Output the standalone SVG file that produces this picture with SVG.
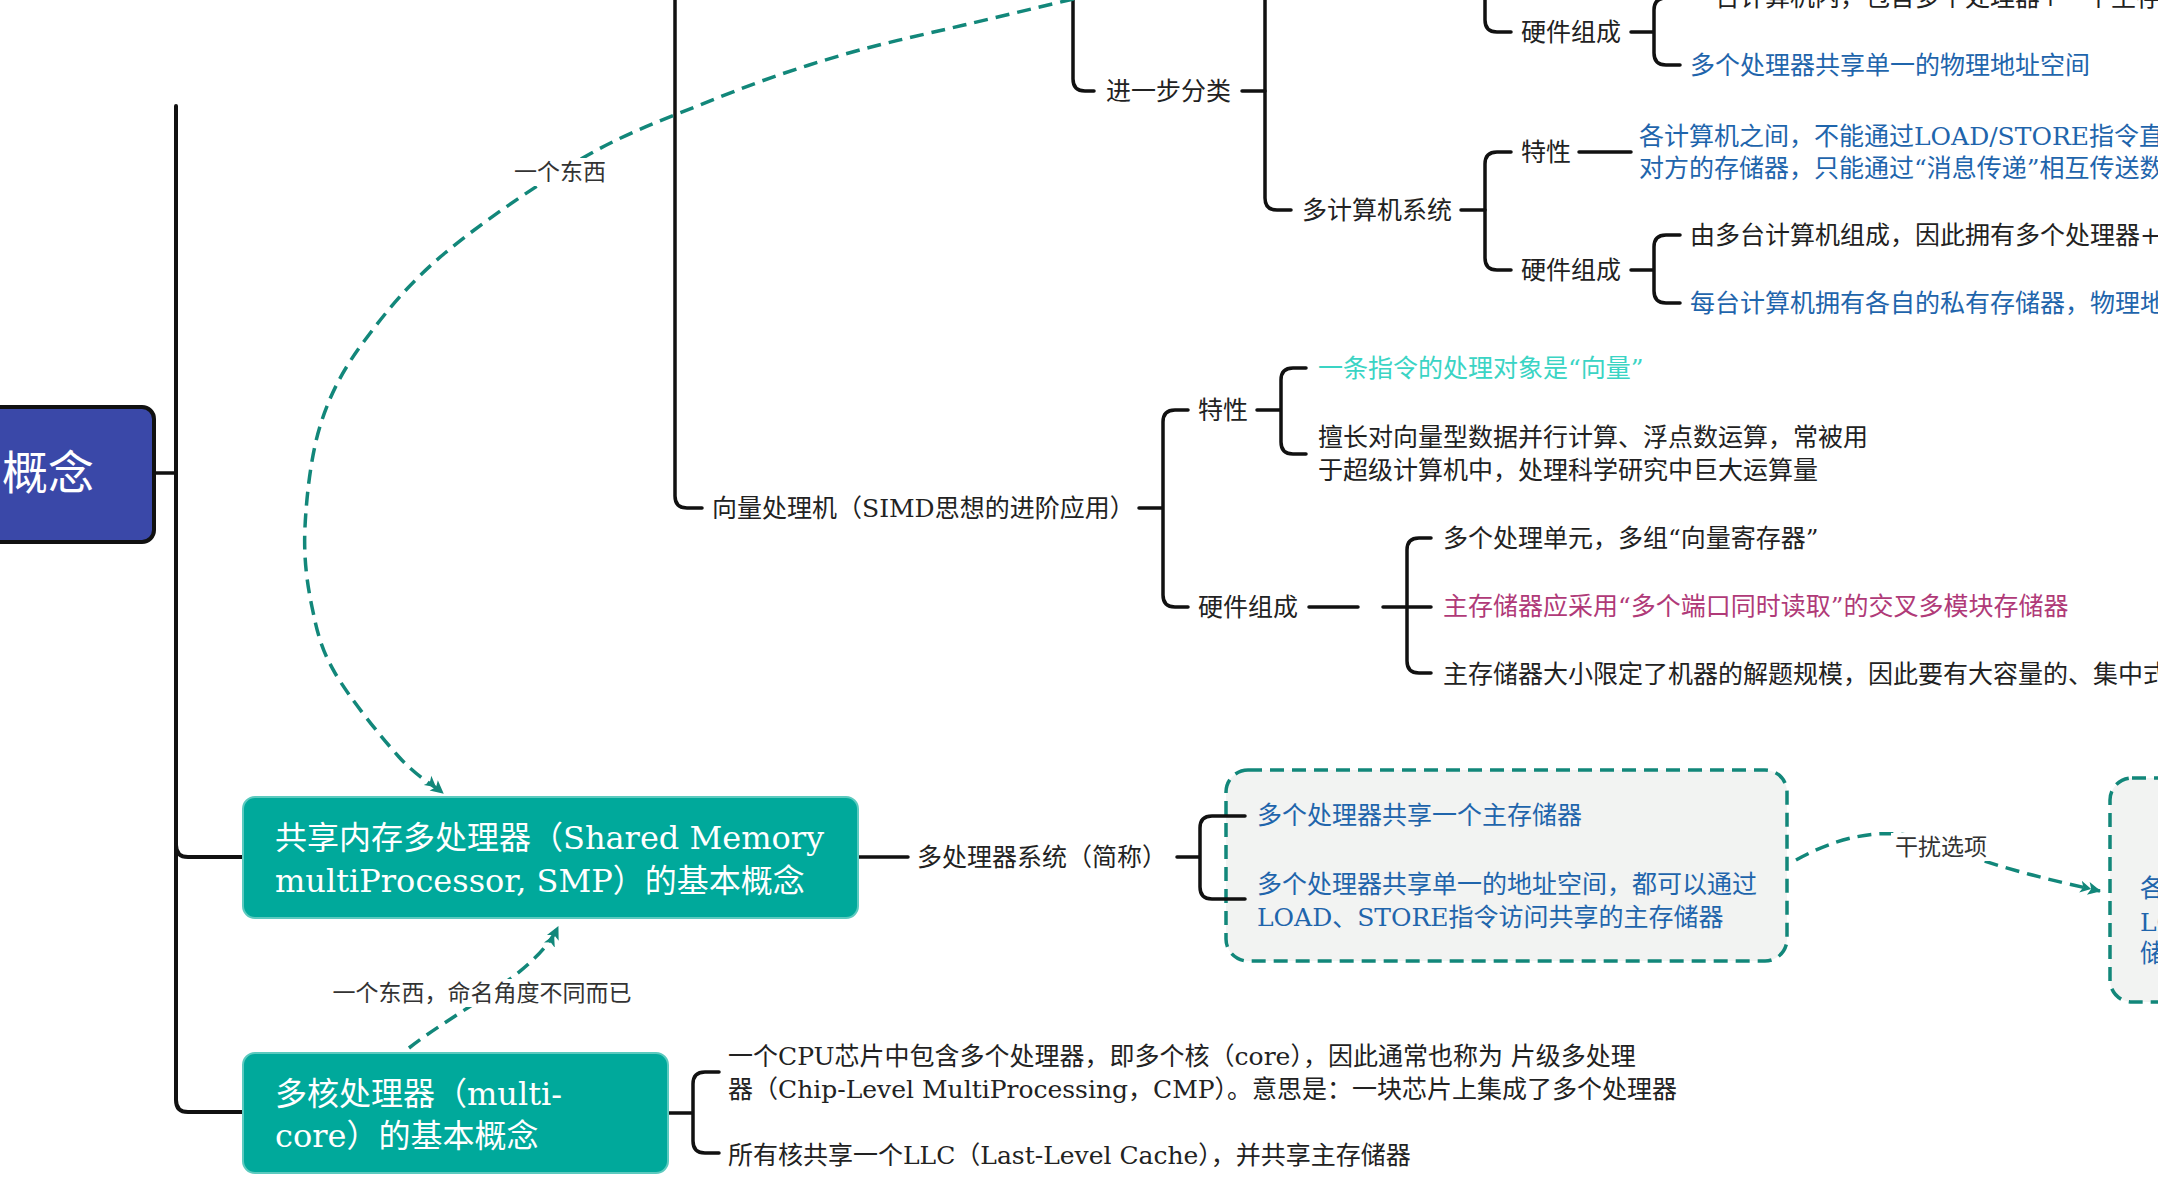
<svg xmlns="http://www.w3.org/2000/svg" width="2158" height="1195" viewBox="0 0 2158 1195">
  <style>
    .ln { fill: none; stroke: #111; stroke-width: 3.5; stroke-linecap: round; stroke-linejoin: round; }
    .main { stroke-width: 4; }
    .t { font-family: "DejaVu Serif", "Noto Sans CJK SC", sans-serif; font-size: 25px; fill: #222; }
    .blue { fill: #1f65ac; }
    .cyan { fill: #3ad4c4; }
    .mag { fill: #b03a78; }
    .lbl { font-family: "Noto Sans CJK SC", sans-serif; font-size: 23px; fill: #333; text-anchor: middle; }
    .dash { fill: none; stroke: #12877a; stroke-width: 3.5; stroke-dasharray: 14 8; }
    .box { fill: #00a99b; stroke: #5ccabf; stroke-width: 2; }
    .bt { font-family: "DejaVu Serif", "Noto Sans CJK SC", sans-serif; font-size: 32px; fill: #fff; }
    .note { fill: #f2f3f2; stroke: #12877a; stroke-width: 3.5; stroke-dasharray: 14 8; }
    .lblbg { fill: #fff; }
  </style>
  <defs>
    <marker id="arr" viewBox="0 0 22 16" refX="20" refY="8" markerWidth="22" markerHeight="16" markerUnits="userSpaceOnUse" orient="auto">
      <path d="M0,2 L11,8 L0,14 L3,8 Z M8,1.5 L21,8 L8,14.5 L11,8 Z" fill="#12877a"/>
    </marker>
  </defs>

  <rect width="2158" height="1195" fill="#fff"/>

  <!-- tree connectors -->
  <g id="connectors">
    <path class="ln" d="M154,473 L176,473"/>
    <path class="ln main" d="M176,106 L176,1100 Q176,1112 188,1112 L243,1112"/>
    <path class="ln main" d="M176,845 Q176,857 188,857 L243,857"/>
    <path class="ln" d="M675,-10 L675,496 Q675,508 687,508 L702,508"/>
    <path class="ln" d="M1073,-10 L1073,79 Q1073,91 1085,91 L1094,91"/>
    <path class="ln" d="M1242,91 L1265,91"/>
    <path class="ln" d="M1265,-10 L1265,198 Q1265,210 1277,210 L1291,210"/>
    <path class="ln" d="M1461,210 L1485,210"/>
    <path class="ln" d="M1485,210 L1485,164 Q1485,152 1497,152 L1511,152 M1485,210 L1485,258 Q1485,270 1497,270 L1511,270"/>
    <path class="ln" d="M1485,-10 L1485,20 Q1485,32 1497,32 L1511,32"/>
    <path class="ln" d="M1579,152 L1631,152"/>
    <path class="ln" d="M1631,270 L1654,270 M1654,270 L1654,247 Q1654,235 1666,235 L1680,235 M1654,270 L1654,291 Q1654,303 1666,303 L1680,303"/>
    <path class="ln" d="M1631,32 L1654,32 M1654,32 L1654,53 Q1654,65 1666,65 L1680,65 M1654,32 L1654,10 Q1654,-2 1666,-2 L1680,-2"/>
    <path class="ln" d="M1139,508 L1163,508 M1163,508 L1163,422 Q1163,410 1175,410 L1188,410 M1163,508 L1163,595 Q1163,607 1175,607 L1188,607"/>
    <path class="ln" d="M1257,410 L1281,410 M1281,410 L1281,380 Q1281,368 1293,368 L1306,368 M1281,410 L1281,442 Q1281,454 1293,454 L1306,454"/>
    <path class="ln" d="M1309,607 L1358,607 M1383,607 L1431,607 M1407,607 L1407,550 Q1407,538 1419,538 L1431,538 M1407,607 L1407,661 Q1407,673 1419,673 L1431,673"/>
    <path class="ln" d="M858,857 L908,857"/>
    <path class="ln" d="M668,1113 L693,1113 M693,1113 L693,1084 Q693,1072 705,1072 L719,1072 M693,1113 L693,1141 Q693,1153 705,1153 L719,1153"/>
  </g>

  <!-- note boxes (behind their bracket) -->
  <g id="note-smp">
    <rect class="note" x="1226" y="770" width="561" height="191" rx="22"/>
  </g>
  <g id="note-right">
    <rect class="note" x="2110" y="778" width="90" height="224" rx="22"/>
  </g>
  <g id="connectors-smp">
    <path class="ln" d="M1177,857 L1200,857 M1200,857 L1200,828 Q1200,816 1212,816 L1245,816 M1200,857 L1200,887 Q1200,899 1212,899 L1245,899"/>
  </g>

  <!-- relation links -->
  <g id="relations">
    <path class="dash" marker-end="url(#arr)" d="M1095,-6 C1073,-1 1006,15 964,25 C922,35 883,43 842,55 C801,67 762,80 720,97 C678,114 634,129 588,155 C542,181 482,222 445,253 C408,284 386,312 365,340 C344,368 331,392 321,423 C311,454 306.5,496 305,527 C303.5,558 307,583 312,607 C317,631 320.5,648 335,673 C349.5,698 381,737 399,757 C417,777 435.7,787 443,793"/>
    <path class="dash" marker-end="url(#arr)" d="M409,1048 C460,1008 535,975 558,927"/>
    <path class="dash" marker-end="url(#arr)" d="M1796,860 C1850,830 1900,826 1945,846 C1990,866 2050,880 2100,891"/>
    <rect class="lblbg" x="510" y="158" width="100" height="28"/>
    <text class="lbl" x="560" y="180">一个东西</text>
    <rect class="lblbg" x="327" y="979" width="311" height="28"/>
    <text class="lbl" x="482" y="1001">一个东西，命名角度不同而已</text>
    <rect class="lblbg" x="1891" y="833" width="100" height="28"/>
    <text class="lbl" x="1941" y="855">干扰选项</text>
  </g>

  <!-- root -->
  <g id="root">
    <rect x="-20" y="407" width="174" height="135" rx="12" fill="#3a48a8" stroke="#111" stroke-width="4"/>
    <text x="94" y="489" text-anchor="end" font-family="Noto Sans CJK SC, sans-serif" font-size="46" fill="#fff">概念</text>
  </g>

  <!-- multiprocessor branch -->
  <g id="n-mp-hw-top">
    <text class="t" x="1690" y="6">一台计算机内，包含多个处理器+一个主存</text>
  </g>
  <g id="n-mp-hw">
    <text class="t" x="1521" y="41">硬件组成</text>
  </g>
  <g id="n-mp-hw-addr">
    <text class="t blue" x="1690" y="74">多个处理器共享单一的物理地址空间</text>
  </g>
  <g id="n-further">
    <text class="t" x="1106" y="100">进一步分类</text>
  </g>

  <!-- multicomputer branch -->
  <g id="n-mc">
    <text class="t" x="1302" y="219">多计算机系统</text>
  </g>
  <g id="n-mc-trait">
    <text class="t" x="1521" y="161">特性</text>
  </g>
  <g id="n-mc-trait-text">
    <text class="t blue" x="1639" y="145">各计算机之间，不能通过LOAD/STORE指令直接</text>
    <text class="t blue" x="1639" y="177">对方的存储器，只能通过“消息传递”相互传送数</text>
  </g>
  <g id="n-mc-hw">
    <text class="t" x="1521" y="279">硬件组成</text>
  </g>
  <g id="n-mc-hw-1">
    <text class="t" x="1690" y="244">由多台计算机组成，因此拥有多个处理器+</text>
  </g>
  <g id="n-mc-hw-2">
    <text class="t blue" x="1690" y="312">每台计算机拥有各自的私有存储器，物理地</text>
  </g>

  <!-- vector processor branch -->
  <g id="n-vec">
    <text class="t" x="712" y="517">向量处理机（SIMD思想的进阶应用）</text>
  </g>
  <g id="n-vec-trait">
    <text class="t" x="1198" y="419">特性</text>
  </g>
  <g id="n-vec-trait-1">
    <text class="t cyan" x="1318" y="377">一条指令的处理对象是“向量”</text>
  </g>
  <g id="n-vec-trait-2">
    <text class="t" x="1318" y="446">擅长对向量型数据并行计算、浮点数运算，常被用</text>
    <text class="t" x="1318" y="479">于超级计算机中，处理科学研究中巨大运算量</text>
  </g>
  <g id="n-vec-hw">
    <text class="t" x="1198" y="616">硬件组成</text>
  </g>
  <g id="n-vec-hw-1">
    <text class="t" x="1443" y="547">多个处理单元，多组“向量寄存器”</text>
  </g>
  <g id="n-vec-hw-2">
    <text class="t mag" x="1443" y="615">主存储器应采用“多个端口同时读取”的交叉多模块存储器</text>
  </g>
  <g id="n-vec-hw-3">
    <text class="t" x="1443" y="683">主存储器大小限定了机器的解题规模，因此要有大容量的、集中式</text>
  </g>

  <!-- shared memory multiprocessor -->
  <g id="n-smp">
    <rect class="box" x="243" y="797" width="615" height="121" rx="12"/>
    <text class="bt" x="275" y="849">共享内存多处理器（Shared Memory</text>
    <text class="bt" x="275" y="892">multiProcessor, SMP）的基本概念</text>
  </g>
  <g id="n-smp-short">
    <text class="t" x="917" y="866">多处理器系统（简称）</text>
  </g>
  <g id="n-smp-1">
    <text class="t blue" x="1257" y="824">多个处理器共享一个主存储器</text>
  </g>
  <g id="n-smp-2">
    <text class="t blue" x="1257" y="893">多个处理器共享单一的地址空间，都可以通过</text>
    <text class="t blue" x="1257" y="926">LOAD、STORE指令访问共享的主存储器</text>
  </g>
  <g id="n-right">
    <text class="t blue" x="2140" y="897">各</text>
    <text class="t blue" x="2140" y="931">LO</text>
    <text class="t blue" x="2140" y="962">储</text>
  </g>

  <!-- multicore -->
  <g id="n-multicore">
    <rect class="box" x="243" y="1053" width="425" height="120" rx="12"/>
    <text class="bt" x="275" y="1105">多核处理器（multi-</text>
    <text class="bt" x="275" y="1147">core）的基本概念</text>
  </g>
  <g id="n-multicore-1">
    <text class="t" x="728" y="1065">一个CPU芯片中包含多个处理器，即多个核（core），因此通常也称为 片级多处理</text>
    <text class="t" x="728" y="1098">器（Chip-Level MultiProcessing，CMP）。意思是：一块芯片上集成了多个处理器</text>
  </g>
  <g id="n-multicore-2">
    <text class="t" x="728" y="1164">所有核共享一个LLC（Last-Level Cache），并共享主存储器</text>
  </g>
</svg>
